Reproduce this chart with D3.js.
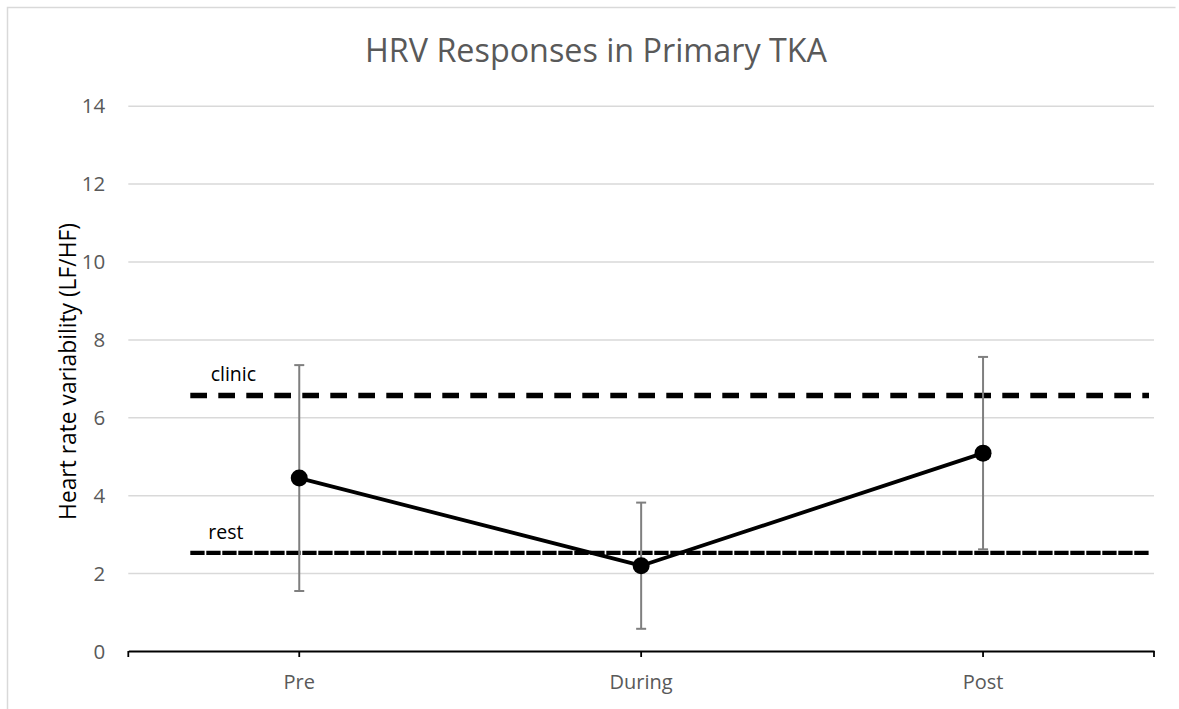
<!DOCTYPE html>
<html>
<head>
<meta charset="utf-8">
<script src="https://cdn.jsdelivr.net/npm/d3@7"></script>
<style>
  html, body { margin: 0; padding: 0; background: #fff; }
  svg { display: block; font-family: "Open Sans", sans-serif; }
</style>
</head>
<body>
<svg id="chart" width="1179" height="709"></svg>
<script>
// ---- data ----
const categories = ["Pre", "During", "Post"];
const meanValues = [4.44, 2.19, 5.08];
const errorValues = [2.9, 1.62, 2.47];
const yTicks = [0, 2, 4, 6, 8, 10, 12, 14];
const refLabels = ["clinic", "rest"];
const refValues = [6.56, 2.52];
const titleText = "HRV Responses in Primary TKA";
const yAxisTitle = "Heart rate variability (LF/HF)";

// ---- layout ----
const W = 1179, H = 709;
const plot = { left: 128.3, right: 1154, top: 105.7, bottom: 651 };
const svg = d3.select("#chart");

// chart border (top and left visible)
svg.append("path")
  .attr("d", "M7.5,709 L7.5,7.5 L1175.5,7.5")
  .attr("fill", "none").attr("stroke", "#d9d9d9").attr("stroke-width", 1.5);

const x = d3.scaleBand().domain(categories).range([plot.left, plot.right]).padding(0);
const y = d3.scaleLinear().domain([0, 14]).range([plot.bottom, plot.top]);
const cx = c => x(c) + x.bandwidth() / 2;

function fit(sel, target) {
  const len = sel.node().getComputedTextLength();
  const fs = parseFloat(sel.attr("font-size"));
  sel.attr("font-size", fs * target / len);
}

// title
const t = svg.append("text")
  .attr("x", 596).attr("y", 62)
  .attr("text-anchor", "middle")
  .attr("font-size", 28).attr("fill", "#595959")
  .text(titleText);
fit(t, 462);

// gridlines + y tick labels
const yAxis = d3.axisLeft(y).tickValues(yTicks).tickSize(-(plot.right - plot.left)).tickFormat(d3.format("d"));
const gy = svg.append("g").attr("transform", `translate(${plot.left},0)`).call(yAxis);
gy.select(".domain").remove();
gy.selectAll(".tick line").attr("stroke", "#d9d9d9").attr("stroke-width", 1.5)
  .filter(d => d === 0).remove();
gy.selectAll(".tick text")
  .attr("x", -23).attr("dy", "0.35em")
  .attr("font-size", 20.5).attr("fill", "#595959")
  .attr("font-family", "'Open Sans', sans-serif");

// x axis
const xAxis = d3.axisBottom(x).tickSize(6).tickSizeOuter(0);
const gx = svg.append("g").attr("transform", `translate(0,${plot.bottom})`).call(xAxis);
gx.select(".domain").attr("stroke", "#000").attr("stroke-width", 1.8);
gx.selectAll(".tick line").attr("stroke", "#000").attr("stroke-width", 1.8);
gx.selectAll(".tick text")
  .attr("y", 37.5).attr("dy", 0)
  .attr("font-size", 20).attr("fill", "#595959")
  .attr("font-family", "'Open Sans', sans-serif");
// edge ticks
[plot.left, plot.right].forEach(px => {
  svg.append("line")
    .attr("x1", px).attr("x2", px)
    .attr("y1", plot.bottom).attr("y2", plot.bottom + 6)
    .attr("stroke", "#000").attr("stroke-width", 1.8);
});

// y axis title
const yt = svg.append("text")
  .attr("transform", `translate(76,371.5) rotate(-90)`)
  .attr("text-anchor", "middle")
  .attr("font-size", 20).attr("fill", "#000")
  .text(yAxisTitle);
fit(yt, 297);

// reference lines
const refStyles = [
  { width: 5.5, dash: "16.7,11.3", lx: 210.7, ly: -14.5 },
  { width: 4.3, dash: "14.3,1.7", lx: 208.3, ly: -13.4 }
];
refValues.forEach((v, i) => {
  const s = refStyles[i];
  svg.append("line")
    .attr("x1", plot.left + 62).attr("x2", plot.right - 5)
    .attr("y1", y(v)).attr("y2", y(v))
    .attr("stroke", "#000").attr("stroke-width", s.width)
    .attr("stroke-dasharray", s.dash);
  svg.append("text")
    .attr("x", s.lx).attr("y", y(v) + s.ly)
    .attr("font-size", 19.5).attr("fill", "#000")
    .text(refLabels[i]);
});

// error bars
const capHalf = 5;
categories.forEach((c, i) => {
  const hi = y(meanValues[i] + errorValues[i]);
  const lo = y(meanValues[i] - errorValues[i]);
  const g = svg.append("g").attr("stroke", "#7f7f7f").attr("stroke-width", 2);
  g.append("line").attr("x1", cx(c)).attr("x2", cx(c)).attr("y1", hi).attr("y2", lo);
  g.append("line").attr("x1", cx(c) - capHalf).attr("x2", cx(c) + capHalf).attr("y1", hi).attr("y2", hi);
  g.append("line").attr("x1", cx(c) - capHalf).attr("x2", cx(c) + capHalf).attr("y1", lo).attr("y2", lo);
});

// main line
const pts = categories.map((c, i) => [cx(c), y(meanValues[i])]);
svg.append("path")
  .attr("d", d3.line()(pts))
  .attr("fill", "none").attr("stroke", "#000").attr("stroke-width", 3.8)
  .attr("stroke-linejoin", "round");

svg.selectAll("circle.pt").data(pts).join("circle")
  .attr("class", "pt")
  .attr("cx", d => d[0]).attr("cy", d => d[1])
  .attr("r", 8.5).attr("fill", "#000");
</script>
</body>
</html>
